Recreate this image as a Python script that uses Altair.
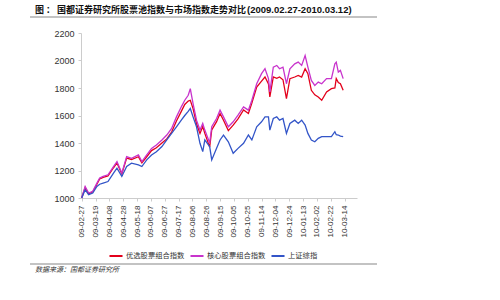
import altair as alt
import pandas as pd

dates = ["2009-02-27","2009-03-04","2009-03-09","2009-03-15","2009-03-21","2009-03-25","2009-03-30",
         "2009-04-06","2009-04-14","2009-04-19","2009-04-26","2009-05-03","2009-05-10","2009-05-20",
         "2009-05-25","2009-06-01","2009-06-08","2009-06-15","2009-06-23","2009-06-30","2009-07-07",
         "2009-07-14","2009-07-21","2009-07-26","2009-07-31","2009-08-03","2009-08-07","2009-08-12",
         "2009-08-17","2009-08-21","2009-08-24","2009-08-31","2009-09-03","2009-09-10","2009-09-15",
         "2009-09-20","2009-09-27","2009-10-04","2009-10-11","2009-10-19","2009-10-26","2009-10-31",
         "2009-11-07","2009-11-14","2009-11-19","2009-11-24","2009-11-26","2009-12-01","2009-12-06",
         "2009-12-10","2009-12-15","2009-12-20","2009-12-25","2010-01-01","2010-01-06","2010-01-11",
         "2010-01-16","2010-01-20","2010-01-25","2010-01-30","2010-02-04","2010-02-09","2010-02-16",
         "2010-02-23","2010-02-28","2010-03-02","2010-03-05","2010-03-08","2010-03-12"]

core = [1000,1084,1036,1048,1108,1145,1157,1169,1229,1265,1181,1301,1289,1313,1265,1313,1361,1386,
        1422,1458,1506,1590,1663,1711,1747,1795,1687,1566,1494,1542,1494,1400,1518,1578,1639,1590,
        1518,1554,1602,1663,1639,1711,1831,1904,1940,1868,1771,1952,1964,1940,1952,1831,1940,1976,
        1988,1964,2036,1952,1855,1819,1843,1831,1868,1868,1976,1988,1916,1928,1868]

best = [1000,1075,1030,1045,1100,1138,1150,1160,1220,1255,1175,1290,1280,1300,1255,1300,1345,1365,
        1400,1430,1480,1560,1630,1680,1705,1711,1650,1540,1470,1520,1470,1370,1495,1555,1615,1565,
        1490,1530,1575,1640,1615,1690,1807,1850,1880,1830,1735,1880,1870,1880,1860,1723,1868,1880,
        1892,1880,1940,1904,1783,1750,1735,1711,1771,1795,1800,1868,1840,1831,1783]

sse = [1000,1060,1024,1036,1084,1100,1108,1120,1181,1217,1157,1229,1253,1241,1229,1277,1313,1337,
       1374,1422,1470,1518,1566,1600,1630,1651,1590,1518,1398,1337,1422,1374,1277,1361,1422,1458,
       1409,1325,1361,1398,1458,1422,1518,1554,1590,1590,1494,1578,1590,1566,1578,1470,1542,1566,
       1542,1566,1530,1470,1422,1409,1434,1446,1446,1446,1482,1460,1458,1450,1446]

series_names = ["优选股票组合指数", "核心股票组合指数", "上证综指"]
series_colors = ["#e3001b", "#c833cc", "#3355c8"]

tick_dates = ["2009-02-27","2009-03-19","2009-04-08","2009-04-28","2009-05-18","2009-06-07",
              "2009-06-27","2009-07-17","2009-08-06","2009-08-26","2009-09-15","2009-10-05",
              "2009-10-25","2009-11-14","2009-12-04","2009-12-24","2010-01-13","2010-02-02",
              "2010-02-22","2010-03-14"]
y_ticks = [1000, 1200, 1400, 1600, 1800, 2000, 2200]

title_cn = "图 ： 国都证券研究所股票池指数与市场指数走势对比"
title_num = "(2009.02.27-2010.03.12)"
source_text = "数据来源：国都证券研究所"

rows = []
for name, vals in zip(series_names, [best, core, sse]):
    for d, v in zip(dates, vals):
        rows.append({"date": d, "value": v, "series": name})
df = pd.DataFrame(rows)

def dt(s):
    y, m, d = s.split("-")
    return alt.DateTime(year=int(y), month=int(m), date=int(d), utc=True)

FONT = "Noto Sans CJK SC"

lines = alt.Chart(df).mark_line(strokeWidth=1.3).encode(
    x=alt.X("date:T",
            scale=alt.Scale(type="utc", domain=[dt("2009-02-26"), dt("2010-04-01")]),
            axis=alt.Axis(title=None, values=[dt(t) for t in tick_dates],
                          labelExpr="utcFormat(datum.value, '%y-%m-%d')",
                          labelAngle=270, labelAlign="right", labelBaseline="middle",
                          labelFontSize=8, labelColor="#333", labelFont="Liberation Sans",
                          labelPadding=4, tickSize=3, tickColor="#ccc",
                          domainColor="#ccc", grid=False, labelOverlap=False)),
    y=alt.Y("value:Q",
            scale=alt.Scale(domain=[1000, 2200], nice=False, zero=False),
            axis=alt.Axis(title=None, values=y_ticks, format="d", labelFontSize=9,
                          labelColor="#333", labelFont="Liberation Sans", labelPadding=4,
                          tickSize=3, tickColor="#ccc", domainColor="#ccc", grid=False)),
    color=alt.Color("series:N",
                    scale=alt.Scale(domain=series_names, range=series_colors),
                    legend=alt.Legend(title=None, orient="none", legendX=27, legendY=215,
                                      direction="horizontal", symbolType="stroke",
                                      symbolSize=170, symbolStrokeWidth=2,
                                      labelFont=FONT, labelFontSize=7.3, labelColor="#333",
                                      columnPadding=1, labelOffset=2)),
    order=alt.Order("series:N")
)

t1 = alt.Chart(pd.DataFrame({"t": [title_cn]})).mark_text(
    align="left", baseline="middle", font=FONT, fontSize=9, fontWeight="bold", color="#111"
).encode(text="t:N", x=alt.value(-46), y=alt.value(-23))

t2 = alt.Chart(pd.DataFrame({"t": [title_num]})).mark_text(
    align="left", baseline="middle", font="Liberation Sans", fontSize=9.5, fontWeight="bold", color="#111"
).encode(text="t:N", x=alt.value(166), y=alt.value(-23))

r1 = alt.Chart(pd.DataFrame({"a": [0]})).mark_rule(color="#888", strokeWidth=1.2).encode(
    x=alt.value(-51), x2=alt.value(296), y=alt.value(-16))
r2 = alt.Chart(pd.DataFrame({"a": [0]})).mark_rule(color="#888", strokeWidth=1.2).encode(
    x=alt.value(-51), x2=alt.value(296), y=alt.value(231))

src = alt.Chart(pd.DataFrame({"t": [source_text]})).mark_text(
    align="left", baseline="middle", font=FONT, fontSize=7, fontStyle="italic", color="#333"
).encode(text="t:N", x=alt.value(-46), y=alt.value(237))

chart = alt.layer(lines, t1, t2, r1, r2, src).properties(
    width=276, height=165,
    padding={"left": 81, "top": 33, "right": 143, "bottom": 102},
    autosize=alt.AutoSizeParams(type="none"),
    background="white"
).configure_view(stroke=None)

chart.save("out.html", embed_options={"renderer": "svg", "actions": False})
